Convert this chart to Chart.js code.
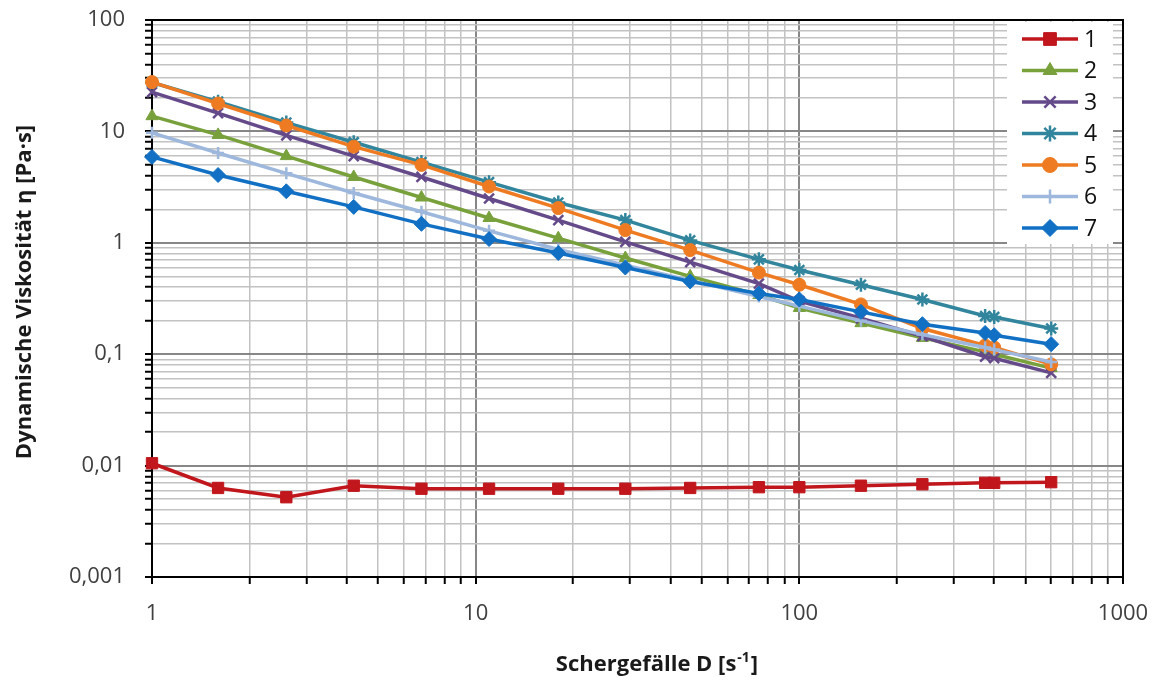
<!DOCTYPE html>
<html>
<head>
<meta charset="utf-8">
<script src="https://cdn.jsdelivr.net/npm/chart.js@4.4.0/dist/chart.umd.min.js"></script>
<style>
  html, body { margin: 0; padding: 0; background: #fff; overflow: hidden; }
  #wrap { width: 1162px; height: 686px; }
</style>
</head>
<body>
<div id="wrap"><canvas id="viskChart"></canvas></div>
<script>
// Schergefälle D [1/s]
const shearRates = [1, 1.6, 2.6, 4.2, 6.8, 11, 18, 29, 46, 75, 100, 155, 240, 375, 400, 600];

// dynamische Viskosität [Pa·s] je Probe
const probe1 = [0.0105, 0.0063, 0.0052, 0.0066, 0.0062, 0.0062, 0.0062, 0.0062, 0.0063, 0.0064, 0.0064, 0.0066, 0.0068, 0.0070, 0.0070, 0.0071];
const probe2 = [13.7, 9.3, 6.0, 3.9, 2.55, 1.67, 1.1, 0.73, 0.5, 0.34, 0.26, 0.19, 0.14, 0.105, 0.1, 0.075];
const probe3 = [22.5, 14.6, 9.2, 6.0, 3.9, 2.5, 1.6, 1.02, 0.67, 0.43, 0.3, 0.21, 0.145, 0.095, 0.092, 0.068];
const probe4 = [27.5, 18.5, 12.0, 8.0, 5.3, 3.5, 2.3, 1.6, 1.05, 0.71, 0.57, 0.42, 0.31, 0.22, 0.216, 0.17];
const probe5 = [27.7, 17.8, 11.3, 7.3, 5.0, 3.2, 2.05, 1.3, 0.86, 0.54, 0.42, 0.28, 0.17, 0.12, 0.115, 0.081];
const probe6 = [9.7, 6.4, 4.2, 2.8, 1.9, 1.28, 0.87, 0.63, 0.46, 0.33, 0.27, 0.2, 0.15, 0.115, 0.11, 0.085];
const probe7 = [5.9, 4.06, 2.9, 2.1, 1.48, 1.08, 0.81, 0.6, 0.45, 0.35, 0.31, 0.24, 0.186, 0.155, 0.148, 0.123];

const seriesNames = ['1', '2', '3', '4', '5', '6', '7'];
const seriesValues = [probe1, probe2, probe3, probe4, probe5, probe6, probe7];

const xTickValues = [1, 10, 100, 1000];
const xTickLabels = ['1', '10', '100', '1000'];
const yTickValues = [0.001, 0.01, 0.1, 1, 10, 100];
const yTickLabels = ['0,001', '0,01', '0,1', '1', '10', '100'];
const minorSteps = [1, 2, 3, 4, 5, 6, 7, 8, 9];

// styles
const colors = ['#C0161C', '#78A13C', '#654A8A', '#31859C', '#EE7B22', '#9DB8DC', '#1170C4'];
const markers = ['rect', 'triangle', 'crossRot', 'star', 'circle', 'cross', 'rectRot'];
const markerSize = [8, 7, 7, 7, 6.5, 6, 7.5];
const strokeOnly = [false, false, true, true, false, true, false];
const FONT = '"Open Sans", Lato, sans-serif';

const findIdx = (list, v) => list.findIndex(t => Math.abs(t - v) / t < 1e-9);
const isDecade = v => Math.abs(Math.log10(v) - Math.round(Math.log10(v))) < 1e-9;

function logTicks(decades) {
  const out = [];
  decades.forEach((d, i) => {
    if (i === decades.length - 1) out.push(d);
    else minorSteps.forEach(m => out.push(+(d * m).toPrecision(6)));
  });
  return out.map(v => ({ value: v }));
}

const gridOpts = {
  color: c => (c.tick && isDecade(c.tick.value)) ? '#878787' : '#c2c2c2',
  lineWidth: c => (c.tick && isDecade(c.tick.value)) ? 2 : 1.5,
  tickColor: '#000',
  tickLength: 7,
  tickWidth: 2,
  drawTicks: true
};

const datasets = seriesValues.map((vals, i) => ({
  label: seriesNames[i],
  data: shearRates.map((x, k) => ({ x: x, y: vals[k] })),
  borderColor: colors[i],
  backgroundColor: colors[i],
  borderWidth: 3.5,
  pointStyle: markers[i],
  pointRadius: markerSize[i],
  pointHoverRadius: markerSize[i],
  pointBorderWidth: strokeOnly[i] ? 2.5 : 1,
  pointBackgroundColor: colors[i],
  pointBorderColor: colors[i],
  tension: 0,
  clip: false,
  order: 7 - i
}));

const excelLook = {
  id: 'excelLook',
  beforeDatasetsDraw(chart) {
    const { ctx, chartArea: a } = chart;
    ctx.save();
    ctx.strokeStyle = '#000';
    ctx.lineWidth = 2;
    ctx.beginPath();
    ctx.moveTo(a.left, a.top);
    ctx.lineTo(a.right, a.top);
    ctx.lineTo(a.right, a.bottom);
    ctx.stroke();
    ctx.restore();
  },
  afterDraw(chart) {
    const { ctx, chartArea: a } = chart;
    ctx.save();
    // legend box
    const bx = a.right - 116, by = a.top + 2;
    ctx.fillStyle = '#fff';
    ctx.fillRect(bx, by, 106, 222);
    seriesNames.forEach((name, i) => {
      const y = a.top + 19 + i * 31.5;
      ctx.strokeStyle = colors[i];
      ctx.fillStyle = colors[i];
      ctx.lineWidth = 3.5;
      ctx.beginPath();
      ctx.moveTo(bx + 15, y);
      ctx.lineTo(bx + 71, y);
      ctx.stroke();
      ctx.lineWidth = strokeOnly[i] ? 2.5 : 1;
      if (Chart.helpers && Chart.helpers.drawPoint) {
        Chart.helpers.drawPoint(ctx, { pointStyle: markers[i], radius: markerSize[i] + 1, rotation: 0, borderWidth: ctx.lineWidth }, bx + 43, y);
      }
      ctx.fillStyle = '#111';
      ctx.font = '23px ' + FONT;
      ctx.textBaseline = 'middle';
      ctx.textAlign = 'left';
      ctx.fillText(name, bx + 77, y + 1);
    });

    // axis titles
    ctx.fillStyle = '#1a1a1a';
    ctx.textBaseline = 'middle';
    const main = 'Schergefälle D [s';
    const sup = '-1';
    const tail = ']';
    ctx.font = 'bold 22px ' + FONT;
    const w1 = ctx.measureText(main).width;
    const w3 = ctx.measureText(tail).width;
    ctx.font = 'bold 14px ' + FONT;
    const w2 = ctx.measureText(sup).width;
    const x0 = 656 - (w1 + w2 + w3) / 2;
    const ty = 665;
    ctx.textAlign = 'left';
    ctx.font = 'bold 22px ' + FONT;
    ctx.fillText(main, x0, ty);
    ctx.font = 'bold 14px ' + FONT;
    ctx.fillText(sup, x0 + w1 + 1, ty - 7);
    ctx.font = 'bold 22px ' + FONT;
    ctx.fillText(tail, x0 + w1 + w2 + 2, ty);

    ctx.translate(25, 292);
    ctx.rotate(-Math.PI / 2);
    ctx.textAlign = 'center';
    ctx.font = 'bold 22px ' + FONT;
    ctx.fillText('Dynamische Viskosität η [Pa·s]', 0, 0);
    ctx.restore();
  }
};

new Chart(document.getElementById('viskChart'), {
  type: 'line',
  data: { datasets: datasets },
  options: {
    responsive: true,
    maintainAspectRatio: false,
    animation: false,
    layout: { padding: { top: 20, right: 39, left: 0, bottom: 0 } },
    plugins: {
      legend: { display: false },
      tooltip: { enabled: false }
    },
    scales: {
      x: {
        type: 'logarithmic',
        min: 1,
        max: 1000,
        afterBuildTicks: s => { s.ticks = logTicks(xTickValues); },
        afterFit: s => { s.height = 109; s.paddingLeft = 0; s.paddingRight = 0; },
        grid: gridOpts,
        border: { display: true, color: '#000', width: 2 },
        ticks: {
          autoSkip: false,
          maxRotation: 0,
          padding: 17,
          color: '#404040',
          font: { family: FONT, size: 22 },
          callback: v => { const i = findIdx(xTickValues, v); return i >= 0 ? xTickLabels[i] : ''; }
        }
      },
      y: {
        type: 'logarithmic',
        min: 0.001,
        max: 100,
        afterBuildTicks: s => { s.ticks = logTicks(yTickValues); },
        afterFit: s => { s.width = 152; s.paddingTop = 0; s.paddingBottom = 0; },
        grid: gridOpts,
        border: { display: true, color: '#000', width: 2 },
        ticks: {
          autoSkip: false,
          padding: 20,
          color: '#404040',
          font: { family: FONT, size: 22 },
          callback: v => { const i = findIdx(yTickValues, v); return i >= 0 ? yTickLabels[i] : ''; }
        }
      }
    }
  },
  plugins: [excelLook]
});
</script>
</body>
</html>
